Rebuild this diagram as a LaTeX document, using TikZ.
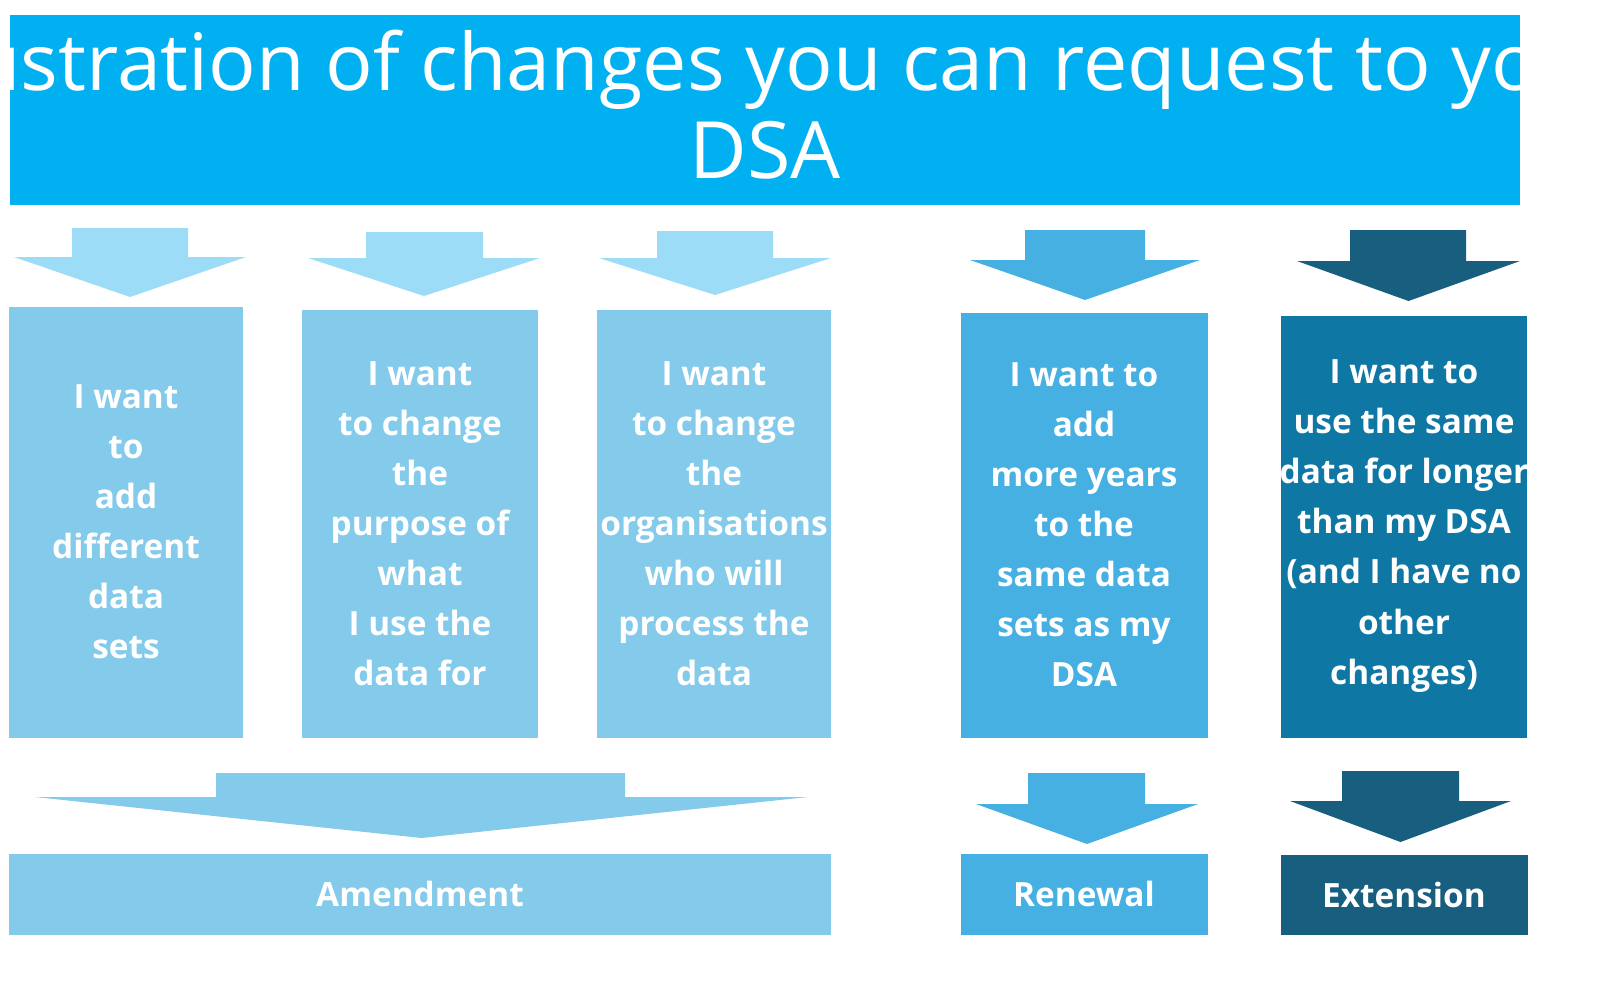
\documentclass[tikz,border=0pt]{standalone}
\usepackage{fontspec}
\setmainfont{Open Sans}
\usepackage{xcolor}
\definecolor{titleblue}{HTML}{00B0F0}
\definecolor{paleblue}{HTML}{9CDCF7}
\definecolor{lightblue}{HTML}{83CAEB}
\definecolor{midblue}{HTML}{45B0E1}
\definecolor{deepblue}{HTML}{0F77A3}
\definecolor{darkblue}{HTML}{175E7F}
\tikzset{
  box/.style={inner sep=0pt, text=white, font=\fontsize{19}{28.5}\selectfont\bfseries, align=center},
}
% down arrow: x shaft left, x shaft right, y top, y shoulder, x head left, x head right, y tip
\newcommand{\bigdownarrow}[8]{%
  \fill[#1] (#2,#4) -- (#3,#4) -- (#3,#5) -- (#7,#5) -- ({(#6+#7)/2},#8) -- (#6,#5) -- (#2,#5) -- cycle;}
\begin{document}
\begin{tikzpicture}[x=0.02cm,y=-0.02cm]
	\useasboundingbox (0,0) rectangle (1624,988);
	\fill[titleblue] (10,15) rectangle (1520,205);
	\node[text=white, font=\fontsize{45}{50}\selectfont, align=center] (title) at (765,105) {Illustration of changes you can request to your\\DSA};
	% arrows on top
	\bigdownarrow{paleblue}{72}{188}{228}{257}{14}{246}{297}
	\bigdownarrow{paleblue}{366}{483}{232}{258}{308}{540}{296}
	\bigdownarrow{paleblue}{657}{773}{231}{258}{599}{831}{295}
	\bigdownarrow{midblue}{1025}{1145}{230}{260}{970}{1200}{300}
	\bigdownarrow{darkblue}{1350}{1466}{230}{261}{1297}{1520}{301}
	% request boxes
	\fill[lightblue] (9,307) rectangle (243,738);
	\node[box] (add) at (126,522) {I want\\to\\add\\different\\data\\sets};
	\fill[lightblue] (302,310) rectangle (538,738);
	\node[box] (purpose) at (420,524) {I want\\to change\\the\\purpose of\\what\\I use the\\data for};
	\fill[lightblue] (597,310) rectangle (831,738);
	\node[box] (orgs) at (714,524) {I want\\to change\\the\\organisations\\who will\\process the\\data};
	\fill[midblue] (961,313) rectangle (1208,738);
	\node[box] (years) at (1084,525) {I want to\\add\\more years\\to the\\same data\\sets as my\\DSA};
	\fill[deepblue] (1281,316) rectangle (1527,738);
	\node[box] (longer) at (1404,526) {I want to\\use the same\\data for longer\\than my DSA\\(and I have no\\other\\changes)};
	% arrows below
	\bigdownarrow{lightblue}{216}{625}{773}{797}{35}{808}{838}
	\bigdownarrow{midblue}{1028}{1145}{773}{804}{976}{1198}{844}
	\bigdownarrow{darkblue}{1342}{1459}{771}{801}{1290}{1511}{842}
	% outcomes
	\fill[lightblue] (9,854) rectangle (831,935);
	\node[box] (amend) at (420,894) {Amendment};
	\fill[midblue] (961,854) rectangle (1208,935);
	\node[box] (renew) at (1084,894) {Renewal};
	\fill[darkblue] (1281,855) rectangle (1528,935);
	\node[box] (ext) at (1404,895) {Extension};
\end{tikzpicture}
\end{document}
